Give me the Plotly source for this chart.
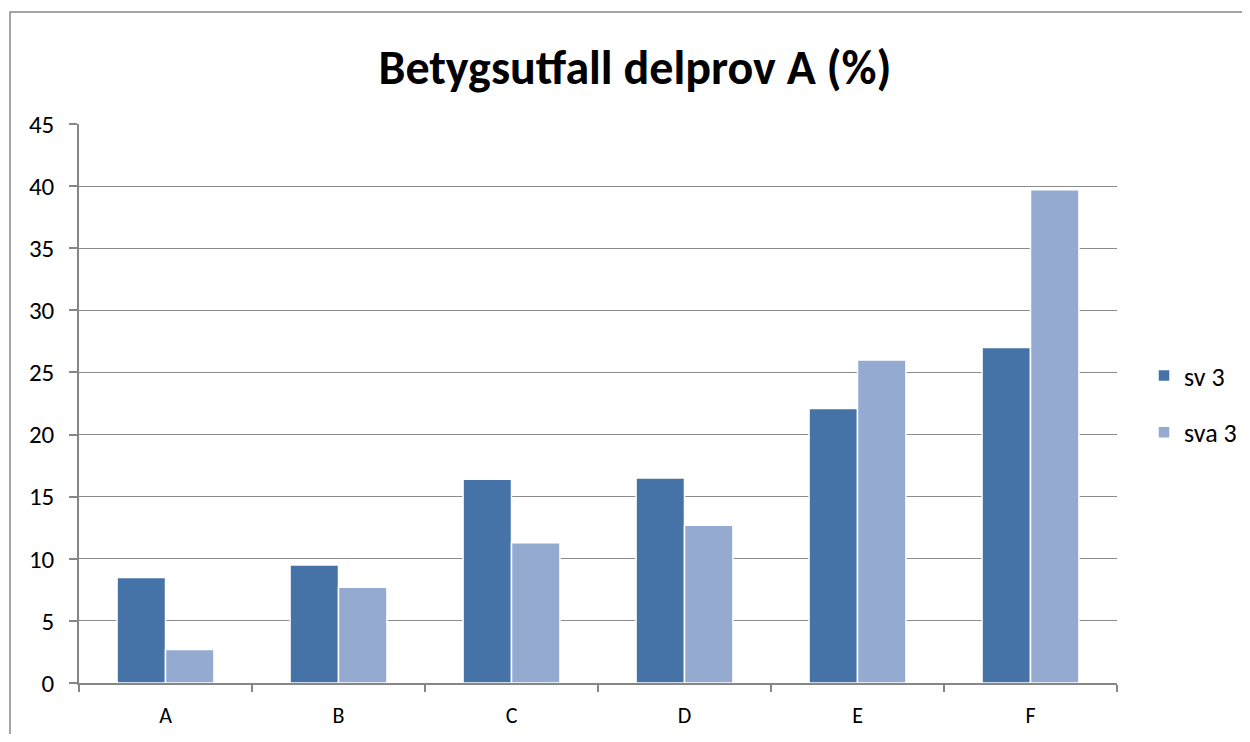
import plotly.graph_objects as go

categories = ["A", "B", "C", "D", "E", "F"]
sv3_values = [8.5, 9.5, 16.4, 16.5, 22.1, 27.0]
sva3_values = [2.7, 7.7, 11.3, 12.7, 26.0, 39.7]
y_ticks = [0, 5, 10, 15, 20, 25, 30, 35, 40, 45]

# page has an 8px body margin; keep the figure inside the window and shift
OFF = 8
W, H = 1250 - 2 * OFF, 742 - 2 * OFF
L, R, T, B = 79 - OFF, 1117 - OFF, 124 - OFF, 683 - OFF

fig = go.Figure()
fig.add_trace(go.Bar(
    x=categories, y=sv3_values, name="sv 3", legendgroup="sv",
    marker=dict(color="#4573A7", line=dict(color="white", width=1.5)),
))
fig.add_trace(go.Bar(
    x=categories, y=sva3_values, name="sva 3", legendgroup="sva",
    marker=dict(color="#94AAD1", line=dict(color="white", width=1.5)),
))

pw, ph = R - L, B - T
def px_x(v):
    return (v - OFF - L) / pw
def px_y(v):
    return (B - (v - OFF)) / ph

# outer chart border (left and top visible)
fig.add_shape(type="rect", xref="paper", yref="paper",
              x0=px_x(10), x1=px_x(1400), y0=px_y(800), y1=px_y(12),
              line=dict(color="#888888", width=1.5), layer="below")

fig.update_layout(
    width=W, height=H,
    margin=dict(l=L, r=W - R, t=T, b=H - B, autoexpand=False),
    paper_bgcolor="white", plot_bgcolor="white",
    barmode="group", bargap=0.44, bargroupgap=0.0,
    font=dict(family="Carlito, Calibri, 'Open Sans', sans-serif", size=24, color="black"),
    title=dict(text="<b>Betygsutfall delprov A (%)</b>", x=px_x(635), xanchor="center",
               xref="paper", y=1 - (67 - OFF) / H, yanchor="middle", font=dict(size=48)),
    legend=dict(xref="container", yref="container",
                x=(1144 - OFF) / W, y=1 - (352 - OFF) / H, xanchor="left", yanchor="top",
                font=dict(size=26), tracegroupgap=20, itemwidth=30),
    showlegend=True,
)
fig.update_xaxes(
    showline=True, linecolor="#868686", linewidth=1.5, automargin=False,
    ticks="outside", tickson="boundaries", ticklen=7, tickcolor="#868686", tickwidth=1.5,
    showgrid=False, tickfont=dict(size=22), ticklabelstandoff=12,
)
fig.update_yaxes(
    range=[0, 45], tickvals=y_ticks, showline=True, linecolor="#868686", linewidth=1.5,
    ticks="outside", ticklen=8, tickcolor="#868686", tickwidth=1.5, automargin=False,
    showgrid=True, gridcolor="#8C8C8C", gridwidth=1.2, zeroline=False,
    tickfont=dict(size=25), ticklabelstandoff=10,
)

fig.write_html("out.html")
